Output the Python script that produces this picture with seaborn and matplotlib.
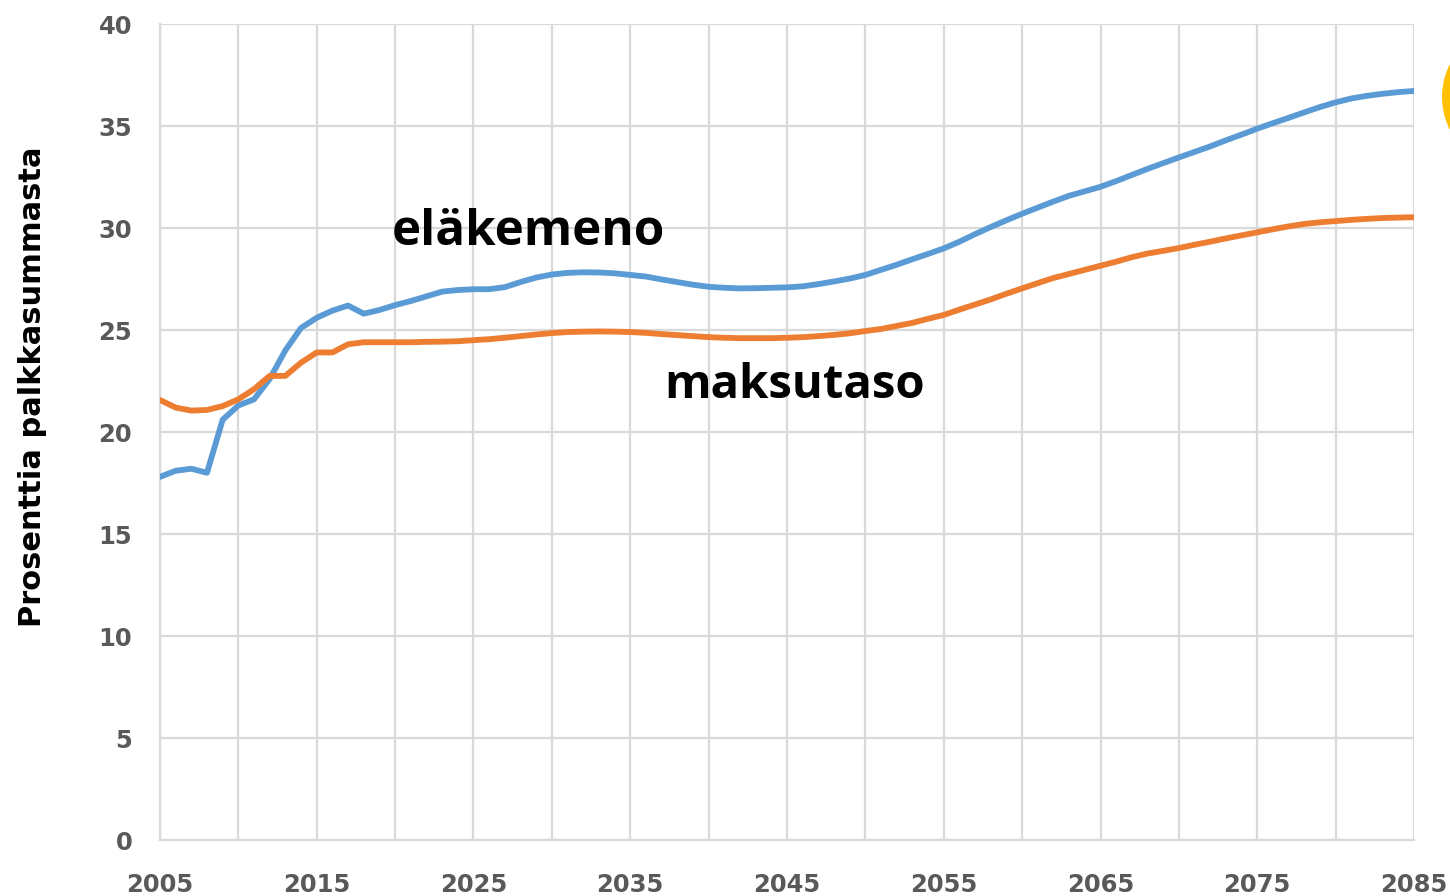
import matplotlib
matplotlib.use("Agg")
import matplotlib.pyplot as plt
from matplotlib.patches import Circle
from matplotlib.transforms import IdentityTransform
import seaborn as sns
import pandas as pd

years = list(range(2005, 2086))

# eläkemeno, % of wage sum
elakemeno = [17.8, 18.1, 18.2, 18.0, 20.6, 21.3, 21.6, 22.6, 24.0, 25.1,
             25.6, 25.95, 26.2, 25.8, 25.98, 26.22, 26.42, 26.65, 26.88, 26.96,
             27.0, 27.0, 27.1, 27.35, 27.57, 27.72, 27.8, 27.83, 27.82, 27.78,
             27.7, 27.62, 27.48, 27.35, 27.22, 27.12, 27.07, 27.04, 27.05, 27.07,
             27.09, 27.14, 27.25, 27.38, 27.52, 27.7, 27.95, 28.2, 28.47, 28.73,
             29.0, 29.33, 29.7, 30.05, 30.38, 30.7, 31.0, 31.3, 31.58, 31.8,
             32.02, 32.3, 32.6, 32.9, 33.18, 33.46, 33.73, 34.0, 34.3, 34.58,
             34.87, 35.14, 35.4, 35.67, 35.93, 36.16, 36.35, 36.48, 36.58, 36.66,
             36.72]

# maksutaso, % of wage sum
maksutaso = [21.57, 21.2, 21.05, 21.08, 21.27, 21.6, 22.1, 22.75, 22.75, 23.4,
             23.9, 23.9, 24.3, 24.4, 24.4, 24.4, 24.4, 24.42, 24.43, 24.45,
             24.5, 24.55, 24.62, 24.7, 24.78, 24.85, 24.9, 24.92, 24.93, 24.92,
             24.9, 24.86, 24.8, 24.75, 24.7, 24.65, 24.62, 24.6, 24.6, 24.6,
             24.62, 24.65, 24.7, 24.76, 24.84, 24.95, 25.05, 25.2, 25.35, 25.55,
             25.74, 26.0, 26.25, 26.5, 26.78, 27.04, 27.3, 27.55, 27.75, 27.95,
             28.15, 28.35, 28.57, 28.75, 28.88, 29.02, 29.18, 29.33, 29.49, 29.64,
             29.79, 29.94, 30.08, 30.2, 30.28, 30.34, 30.4, 30.45, 30.49, 30.51,
             30.53]

xticks = list(range(2005, 2086, 5))
yticks = [0, 5, 10, 15, 20, 25, 30, 35, 40]

df = pd.DataFrame({"vuosi": years + years,
                   "arvo": elakemeno + maksutaso,
                   "sarja": ["eläkemeno"] * len(years) + ["maksutaso"] * len(years)})

sns.set_style("white")
plt.rcParams['font.family'] = ['DejaVu Sans']

fig = plt.figure(figsize=(14.5, 8.96), dpi=100)
ax = fig.add_axes([0.1103, 0.0625, 0.8649, 0.9107])

sns.lineplot(data=df, x="vuosi", y="arvo", hue="sarja",
             palette={"eläkemeno": "#5B9BD5", "maksutaso": "#ED7D31"},
             linewidth=4.2, legend=False, ax=ax, zorder=3)

ax.set_xlim(2005, 2085)
ax.set_ylim(0, 40)
ax.set_xticks(xticks)
ax.set_xticklabels([str(y) if (y - 2005) % 10 == 0 else "" for y in xticks])
ax.set_yticks(yticks)
ax.grid(True, color="#d9d9d9", linewidth=1.6, zorder=0)
for s in ["top", "right"]:
    ax.spines[s].set_visible(False)
for s in ["left", "bottom"]:
    ax.spines[s].set_color("#d9d9d9")
    ax.spines[s].set_linewidth(1.6)
ax.tick_params(axis="x", length=0, pad=24, labelsize=17.5, labelcolor="#595959")
ax.tick_params(axis="y", length=0, pad=20, labelsize=17.5, labelcolor="#595959")
for lab in ax.get_xticklabels() + ax.get_yticklabels():
    lab.set_fontweight("bold")

ax.set_xlabel("")
ax.set_ylabel("Prosenttia palkkasummasta", fontsize=22, fontweight="bold", color="black")
ax.yaxis.set_label_coords(-0.09, 0.555)

ax.text(2019.8, 29.8, "eläkemeno", fontsize=35.5, fontweight="bold",
        family=["Open Sans", "DejaVu Sans"], va="center", ha="left", color="black")
ax.text(2037.2, 22.3, "maksutaso", fontsize=34, fontweight="bold",
        family=["Open Sans", "DejaVu Sans"], va="center", ha="left", color="black")

# yellow circle peeking at the right edge
fig.patches.append(Circle((1514, 896 - 97), 72, transform=IdentityTransform(),
                          facecolor="#FFC000", edgecolor="none", figure=fig))

fig.savefig("out.png", dpi=100)
